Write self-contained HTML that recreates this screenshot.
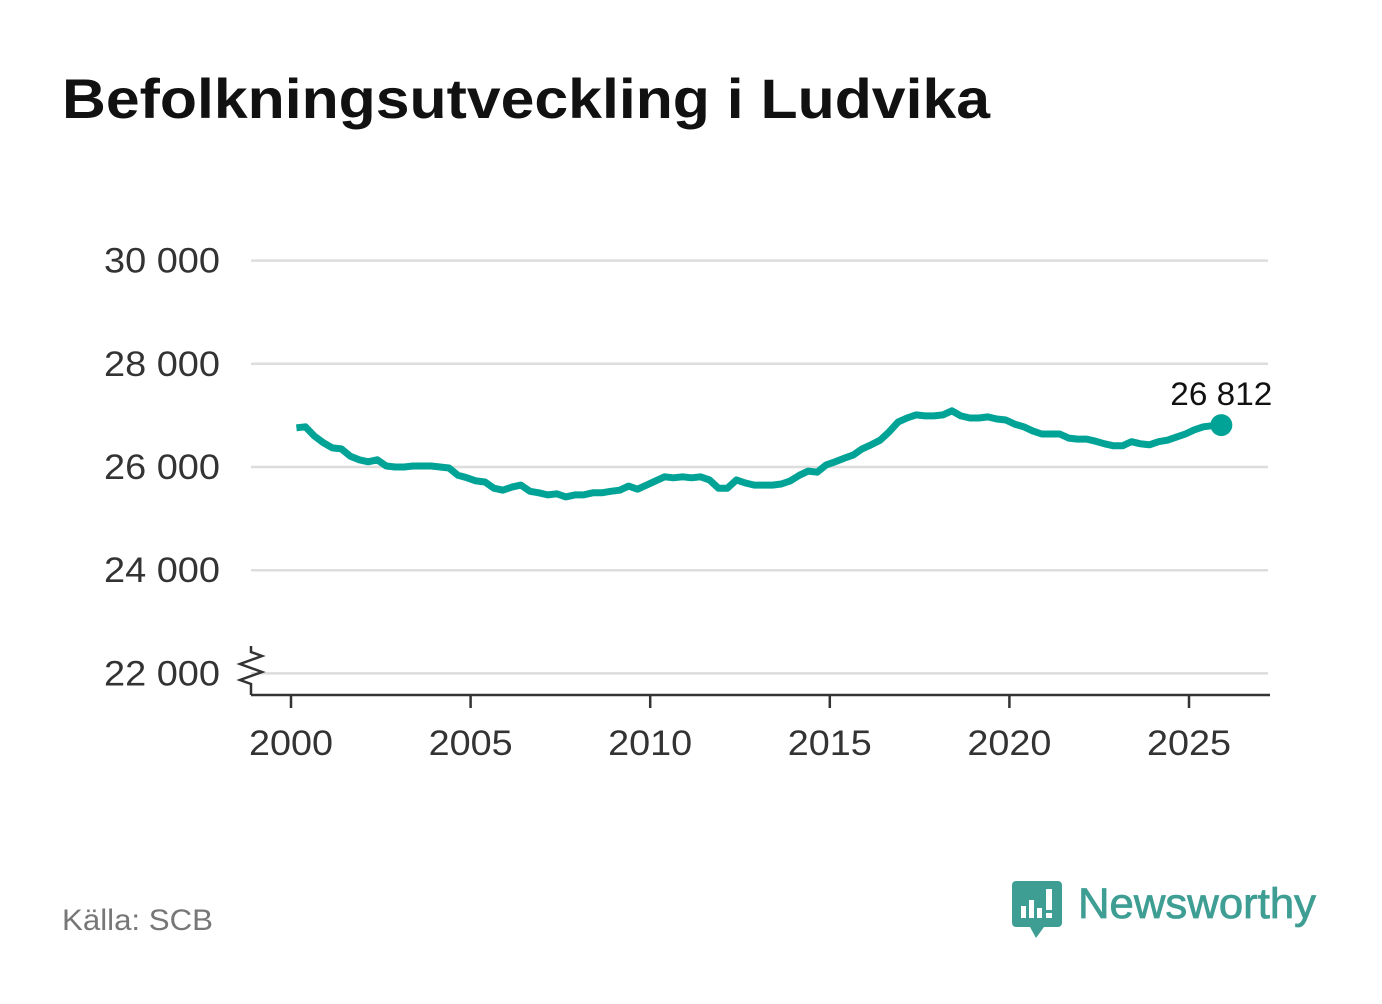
<!DOCTYPE html>
<html><head><meta charset="utf-8"><style>
body{margin:0;background:#fff;width:1382px;height:999px;overflow:hidden;font-family:"Liberation Sans","DejaVu Sans",sans-serif}
</style></head><body>
<svg width="1382" height="999" xmlns="http://www.w3.org/2000/svg">
<text x="62" y="118" font-size="56" font-weight="bold" fill="#111" textLength="928" lengthAdjust="spacingAndGlyphs">Befolkningsutveckling i Ludvika</text>
<g id="grid"></g><g id="axes"></g><g id="plot"></g>
<text x="62" y="930" font-size="30" fill="#777" textLength="151" lengthAdjust="spacingAndGlyphs">Källa: SCB</text>
<g>
<path d="M1016 881 h42 a4 4 0 0 1 4 4 v38 a4 4 0 0 1 -4 4 h-14 l-8 11 l-6 -11 h-14 a4 4 0 0 1 -4 -4 v-38 a4 4 0 0 1 4 -4z" fill="#3f9e94"/>
<rect x="1021" y="906" width="5" height="12" fill="#fff"/><rect x="1029" y="900" width="5" height="18" fill="#fff"/><rect x="1037" y="908" width="5" height="10" fill="#fff"/><rect x="1046" y="889" width="6" height="21" fill="#fff"/><rect x="1046" y="913" width="6" height="5" fill="#fff"/>
<text x="1078" y="918" font-size="43" fill="#3f9e94" stroke="#3f9e94" stroke-width="0.8" textLength="238" lengthAdjust="spacingAndGlyphs">Newsworthy</text>
</g>
</svg>
<script>
const values=[26760,26780,26600,26470,26370,26350,26210,26140,26100,26140,26020,26000,26000,26020,26020,26020,26000,25980,25840,25790,25730,25710,25590,25550,25610,25650,25530,25500,25460,25480,25420,25460,25460,25500,25500,25530,25550,25630,25570,25650,25730,25810,25790,25810,25790,25810,25750,25590,25590,25750,25690,25650,25650,25650,25670,25730,25840,25920,25900,26040,26100,26170,26230,26350,26430,26520,26680,26870,26950,27010,26990,26990,27010,27090,26990,26950,26950,26970,26930,26910,26830,26780,26700,26640,26640,26640,26560,26540,26540,26500,26450,26410,26410,26490,26450,26430,26490,26520,26580,26640,26720,26780,26800,26812];
const startYear=2000.15, step=0.25;
const yTicks=[22000,24000,26000,28000,30000];
const yTickLabels=["22 000","24 000","26 000","28 000","30 000"];
const xTicks=[2000,2005,2010,2015,2020,2025];
const lastLabel="26 812";
const NS="http://www.w3.org/2000/svg";
const X=yr=>291+(yr-2000)*35.92;
const Y=v=>467-(v-26000)*103.2/2000;
function mk(t,a,p){const e=document.createElementNS(NS,t);for(const k in a)e.setAttribute(k,a[k]);p.appendChild(e);return e;}
const grid=document.getElementById('grid'),axes=document.getElementById('axes'),plot=document.getElementById('plot');
yTicks.forEach((v,i)=>{
 const l=mk('line',{x1:251,x2:1268,y1:Y(v),y2:Y(v),stroke:'#ddd','stroke-width':2.5},grid);
 
 
 const t=mk('text',{x:220,y:Y(v)+12,'font-size':35,fill:'#333','text-anchor':'end',textLength:116,lengthAdjust:'spacingAndGlyphs'},axes);
 t.textContent=yTickLabels[i];
 
 
});
const ax=mk('line',{x1:251,x2:1270,y1:695,y2:695,stroke:'#333','stroke-width':2.5},axes);


const brk=mk('polyline',{points:'251,695 251,684 240,680 262,672 240,664 262,656 251,652 251,646',fill:'none',stroke:'#333','stroke-width':2.5},axes);


xTicks.forEach(yr=>{
 const tk=mk('line',{x1:X(yr),x2:X(yr),y1:695,y2:708,stroke:'#333','stroke-width':2.5},axes);
 
 
 const t=mk('text',{x:X(yr),y:755,'font-size':35,fill:'#333','text-anchor':'middle',textLength:84,lengthAdjust:'spacingAndGlyphs'},axes);
 t.textContent=yr;
 
 
});
const pts=values.map((v,i)=>X(startYear+i*step).toFixed(1)+','+Y(v).toFixed(1)).join(' ');
const line=mk('polyline',{points:pts,fill:'none',stroke:'#00a396','stroke-width':7,'stroke-linejoin':'round'},plot);


const lx=X(startYear+(values.length-1)*step),ly=Y(values[values.length-1]);
const dot=mk('circle',{cx:lx,cy:ly,r:11,fill:'#00a396'},plot);


const lt=mk('text',{x:lx,y:ly-20,'font-size':32,fill:'#111','text-anchor':'middle',textLength:102,lengthAdjust:'spacingAndGlyphs'},plot);
lt.textContent=lastLabel;


</script>
</body></html>
